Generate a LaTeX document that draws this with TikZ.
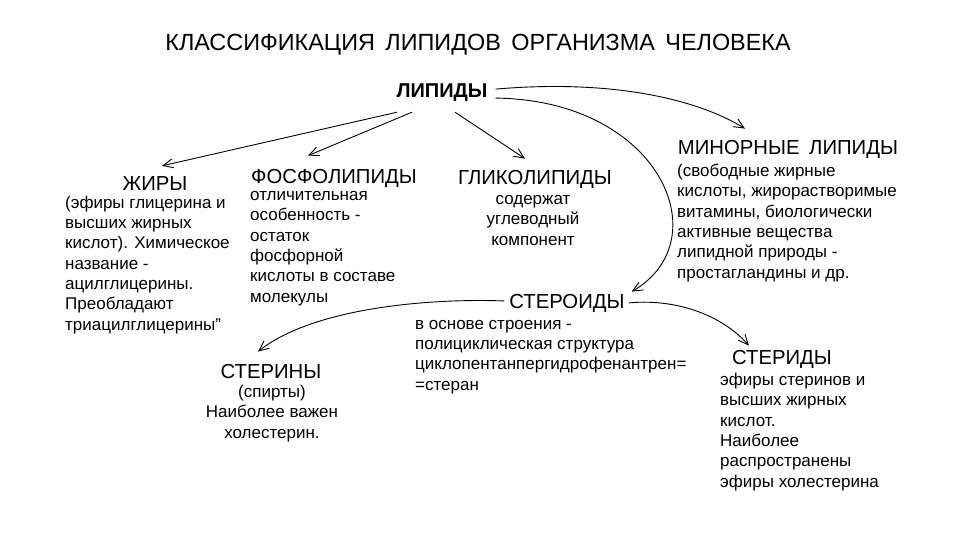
\documentclass[tikz,border=0pt]{standalone}
\usepackage{fontspec}
\setmainfont{Liberation Sans}
\usepackage{tikz}
\usetikzlibrary{arrows.meta}

\begin{document}
\begin{tikzpicture}[
    x=1pt, y=-1pt,
    titul/.style={font=\fontsize{23.4}{27}\selectfont, inner sep=0pt, anchor=base},
    glavnyj/.style={font=\fontsize{20}{24}\selectfont\bfseries, inner sep=0pt, anchor=base},
    zagolovok/.style={font=\fontsize{20.3}{24}\selectfont, inner sep=0pt, anchor=base},
    tekst/.style={font=\fontsize{17}{20.3}\selectfont, align=left, inner sep=0pt,
                  anchor=base west},
    tekstc/.style={tekst, align=center, anchor=base},
    strelka/.style={line width=0.9pt, -{Straight Barb[length=10pt, width=9pt]}}
  ]

  \useasboundingbox[fill=white] (0,0) rectangle (960,540);

  % --- Заголовок ---
  \node[titul] (titul) at (478,51) {КЛАССИФИКАЦИЯ\hspace{4pt} ЛИПИДОВ\hspace{4pt} ОРГАНИЗМА\hspace{4pt} ЧЕЛОВЕКА};
  \node[glavnyj] (lip) at (442,98) {ЛИПИДЫ};

  % --- Первый уровень (текст привязан к последней строке) ---
  \node[zagolovok] (zhir)  at (155,190) {ЖИРЫ};
  \node[tekst] (zhirT) at (65,330)
       {(эфиры глицерина и\\высших жирных\\кислот). Химическое\\название -\\
        ацилглицерины.\\Преобладают\\триацилглицерины”};

  \node[zagolovok] (fosf)  at (334,183) {ФОСФОЛИПИДЫ};
  \node[tekst] (fosfT) at (250,302)
       {отличительная\\особенность -\\остаток\\фосфорной\\кислоты в составе\\молекулы};

  \node[zagolovok] (glik)  at (535,185) {ГЛИКОЛИПИДЫ};
  \node[tekstc] (glikT) at (533,245) {содержат\\углеводный\\компонент};

  \node[zagolovok] (minor) at (788,155) {МИНОРНЫЕ\hspace{4pt} ЛИПИДЫ};
  \node[tekst] (minorT) at (677,278)
       {(свободные жирные\\кислоты, жирорастворимые\\витамины, биологически\\
        активные вещества\\липидной природы -\\простагландины и др.};

  % --- Стероиды ---
  \node[zagolovok] (stero) at (567,308) {СТЕРОИДЫ};
  \node[tekst] (steroT) at (415,390)
       {в основе строения -\\полициклическая структура\\циклопентанпергидрофенантрен=\\=стеран};

  \node[zagolovok] (sterin) at (271,378) {СТЕРИНЫ};
  \node[tekstc] (sterinT) at (272,438) {(спирты)\\Наиболее важен\\холестерин.};

  \node[zagolovok] (sterid) at (782,364) {СТЕРИДЫ};
  \node[tekst] (steridT) at (720,487)
       {эфиры стеринов и\\высших жирных\\кислот.\\Наиболее\\распространены\\эфиры холестерина};

  % --- Связи от липидов ---
  \draw[strelka] ([shift={(-45,10)}]lip.south) -- ([shift={(7,-10)}]zhir.north);
  \draw[strelka] ([shift={(-30,10)}]lip.south) -- ([shift={(-26,-13)}]fosf.north);
  \draw[strelka] ([shift={(13,10)}]lip.south) -- ([shift={(-10,-12)}]glik.north);
  \draw[strelka] ([shift={(8,-4)}]lip.east) .. controls (600,80) and (690,95)
        .. ([shift={(-43,-12)}]minor.north);
  \draw[strelka] ([shift={(8,5)}]lip.east) .. controls (660,100) and (720,240)
        .. ([shift={(7,-2)}]stero.north east);

  % --- Связи от стероидов ---
  \draw[strelka] ([shift={(-5,-2)}]stero.west) .. controls (420,298) and (310,310)
        .. ([shift={(-13,-12)}]sterin.north);
  \draw[strelka] ([shift={(4,0)}]stero.east) .. controls (680,298) and (725,318)
        .. ([shift={(17,-4)}]sterid.north west);
\end{tikzpicture}
\end{document}
